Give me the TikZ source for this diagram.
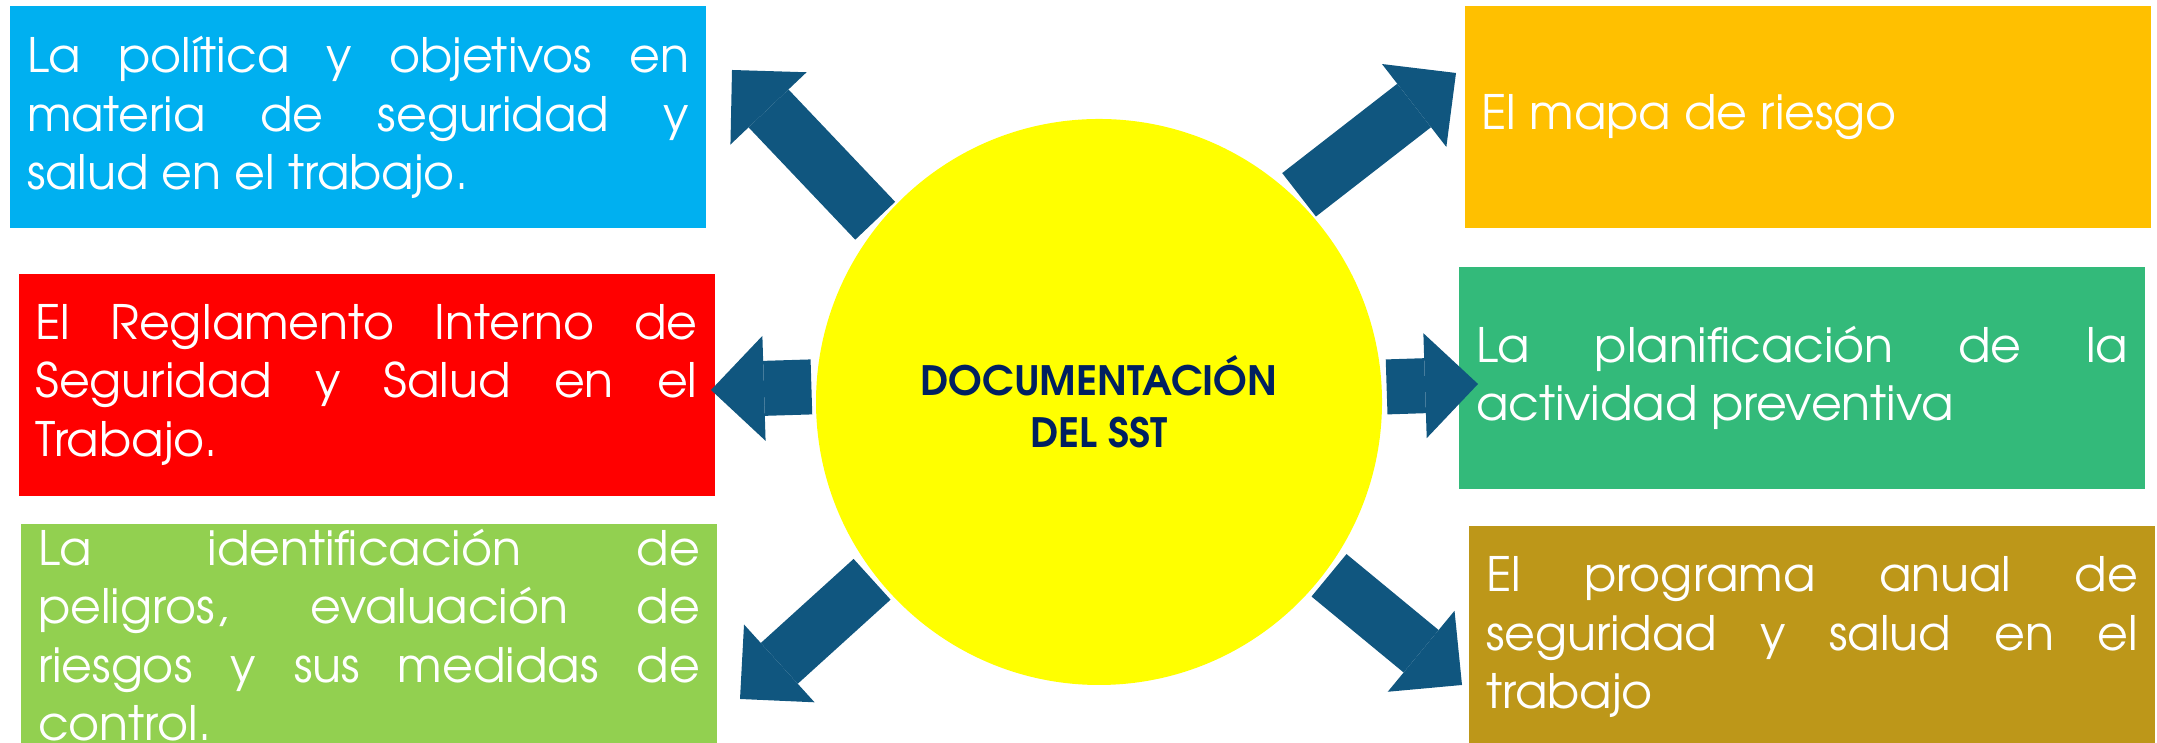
\documentclass[tikz,border=0pt]{standalone}
\usepackage{fontspec}
\setmainfont{texgyreadventor}[Extension=.otf, UprightFont=*-regular, BoldFont=*-bold]
\usepackage{xcolor}
\usetikzlibrary{positioning, arrows.meta}

\definecolor{polblue}{HTML}{00B0F0}
\definecolor{reglred}{HTML}{FF0000}
\definecolor{ipergreen}{HTML}{92D050}
\definecolor{mapaorange}{HTML}{FFC000}
\definecolor{planteal}{HTML}{33BA7A}
\definecolor{progolive}{HTML}{BD9719}
\definecolor{arrowblue}{HTML}{10567F}
\definecolor{sstyellow}{HTML}{FFFF00}
\definecolor{sstnavy}{HTML}{002060}

\hyphenpenalty=10000

\begin{document}
\begin{tikzpicture}
    % Block style
    \tikzstyle{box} = [rectangle, text=white, text width=6.62cm, align=justify, minimum width=6.96cm, minimum height=2.22cm, inner xsep=0.17cm, inner ysep=0pt, font=\fontsize{13.5}{16.6}\selectfont]
    \tikzstyle{rbox} = [box, text width=6.52cm, minimum width=6.86cm]
    \tikzstyle{bigarrow} = [draw=arrowblue, line width=0.55cm, -{Triangle[length=0.53cm, width=1.05cm, line width=0pt]}]

    \useasboundingbox (0,0) rectangle (21.57,7.43);

    % Center
    \node[circle, fill=sstyellow, minimum size=5.66cm, outer sep=0.05cm, align=center, text=sstnavy, font=\bfseries\fontsize{11.5}{14.8}\selectfont] (sst) at (10.99,3.41) {DOCUMENTACIÓN\\DEL SST};

    % Left column
    \node[box, fill=polblue] (politica) at (3.58,6.255) {La política y objetivos en\linebreak materia de seguridad y\linebreak salud en el trabajo.};
    \node[box, fill=reglred, below=0.44cm of politica, xshift=0.085cm] (reglamento) {El Reglamento Interno de\linebreak Seguridad y Salud en el\linebreak Trabajo.};
    \node[box, fill=ipergreen, below=0.27cm of reglamento, xshift=0.025cm] (iperc) {La identificación de\linebreak peligros, evaluación de\linebreak riesgos y sus medidas de\linebreak control.};

    % Right column
    \node[rbox, fill=mapaorange] (mapa) at (18.075,6.255) {El mapa de riesgo};
    \node[rbox, fill=planteal, below=0.37cm of mapa, xshift=-0.055cm] (planif) {La planificación de la\linebreak actividad preventiva};
    \node[rbox, fill=progolive, below=0.36cm of planif, xshift=0.1cm] (programa) {El programa anual de\linebreak seguridad y salud en el\linebreak trabajo};

    % Arrow tips
    \coordinate (tip politica) at (7.32,6.73);
    \coordinate (tip reglamento) at (7.11,3.53);
    \coordinate (tip iperc) at (7.40,0.44);
    \coordinate (tip mapa) at (14.56,6.70);
    \coordinate (tip planif) at (14.78,3.59);
    \coordinate (tip programa) at (14.62,0.58);

    % Connections
    \draw[bigarrow] (sst.141.5) -- (tip politica);
    \draw[bigarrow] (sst.177.6) -- (tip reglamento);
    \draw[bigarrow] (sst.218.8) -- (tip iperc);
    \draw[bigarrow] (sst.46.8) -- (tip mapa);
    \draw[bigarrow] (sst.3.6) -- (tip planif);
    \draw[bigarrow] (sst.323.4) -- (tip programa);
\end{tikzpicture}
\end{document}
